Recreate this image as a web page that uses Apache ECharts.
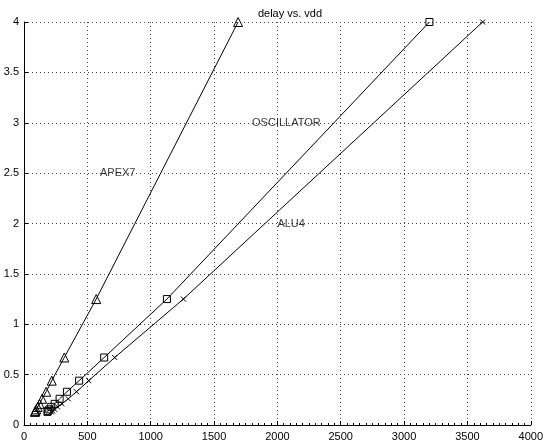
<!DOCTYPE html>
<html>
<head>
<meta charset="utf-8">
<script src="https://cdn.jsdelivr.net/npm/echarts@6/dist/echarts.min.js"></script>
<style>html,body{margin:0;padding:0;background:#fff;}#c{width:546px;height:446px;}</style>
</head>
<body>
<div id="c"></div>
<script>
const titleText = 'delay vs. vdd';
const delayValues = [4, 1.25, 0.67, 0.44, 0.33, 0.26, 0.21, 0.18, 0.155, 0.14, 0.13];
const apex7X = [1690, 570, 318, 219, 175, 143, 123, 108, 97, 90, 86];
const oscillatorX = [3200, 1128, 633, 435, 339, 281, 242, 215, 200, 190, 185];
const alu4X = [3620, 1258, 716, 511, 414, 349, 300, 265, 242, 226, 216];
const seriesNames = ['APEX7', 'OSCILLATOR', 'ALU4'];
const labelX = [600, 1800, 2000];
const labelY = [2.5, 3.0, 2.0];
const xTicks = [0, 500, 1000, 1500, 2000, 2500, 3000, 3500, 4000];
const yTicks = [0, 0.5, 1, 1.5, 2, 2.5, 3, 3.5, 4];

const font = 'Liberation Sans, Arial, sans-serif';
const pair = xs => xs.map((x, i) => [x, delayValues[i]]);
const crossPath = 'path://M0,0L10,10M10,0L0,10';

const mk = (name, xs, symbol, size) => ({
  name, type: 'line', data: pair(xs), symbol, symbolSize: size,
  showAllSymbol: true,
  lineStyle: {color: '#000', width: 1},
  itemStyle: {color: 'rgba(0,0,0,0)', borderColor: '#000', borderWidth: 1},
  emphasis: {disabled: true}, z: 3
});

const chart = echarts.init(document.getElementById('c'), null, {renderer: 'canvas'});
chart.setOption({
  animation: false,
  backgroundColor: '#fff',
  title: {
    text: titleText, left: 285, top: 3, textAlign: 'center',
    textStyle: {fontFamily: font, fontSize: 11, fontWeight: 'normal', color: '#000'}
  },
  grid: {left: 24, right: 10, top: 22, bottom: 21, containLabel: false},
  xAxis: {
    type: 'value', min: xTicks[0], max: xTicks[xTicks.length - 1], interval: 500,
    axisLine: {show: true, lineStyle: {color: '#000', width: 1}},
    axisTick: {show: true, inside: true, length: 4, lineStyle: {color: '#000'}},
    minorTick: {show: true, splitNumber: 10, length: 2, lineStyle: {color: '#000'}},
    axisLabel: {color: '#000', fontFamily: font, fontSize: 11, margin: 6, showMaxLabel: true, showMinLabel: true,
      formatter: v => String(v)},
    splitLine: {show: true, lineStyle: {color: '#444', width: 1, type: [1, 3]}}
  },
  yAxis: {
    type: 'value', min: yTicks[0], max: yTicks[yTicks.length - 1], interval: 0.5,
    axisLine: {show: true, lineStyle: {color: '#000', width: 1}},
    axisTick: {show: true, inside: true, length: 4, lineStyle: {color: '#000'}},
    axisLabel: {color: '#000', fontFamily: font, fontSize: 11, margin: 5, formatter: v => String(v)},
    splitLine: {show: true, lineStyle: {color: '#444', width: 1, type: [1, 3]}}
  },
  series: [
    mk(seriesNames[0], apex7X, 'triangle', 9),
    mk(seriesNames[1], oscillatorX, 'rect', 7),
    mk(seriesNames[2], alu4X, crossPath, 5),
    {
      type: 'scatter', symbolSize: 0, silent: true,
      data: seriesNames.map((n, i) => ({value: [labelX[i], labelY[i]], name: n})),
      label: {show: true, position: 'right', distance: 0, formatter: p => p.name,
        color: '#000', fontFamily: font, fontSize: 11}
    }
  ]
});
</script>
</body>
</html>
